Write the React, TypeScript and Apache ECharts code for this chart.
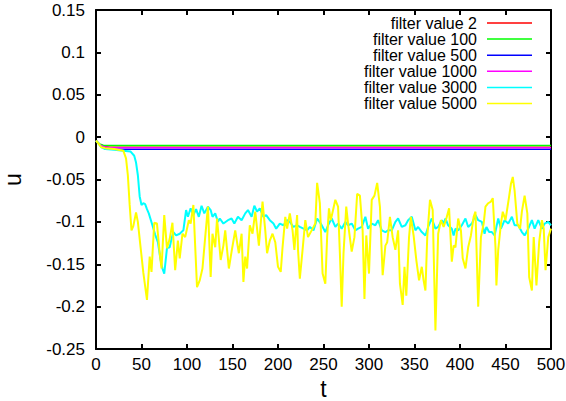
import React, { useEffect, useRef } from "react";
import * as echarts from "echarts";

const seriesNames = [
  "filter value 2",
  "filter value 100",
  "filter value 500",
  "filter value 1000",
  "filter value 3000",
  "filter value 5000",
];
const seriesColors = ["#ff0000", "#00ff00", "#0000ff", "#ff00ff", "#00ffff", "#ffff00"];

const xTicks = [0, 50, 100, 150, 200, 250, 300, 350, 400, 450, 500];
const yTicks = [-0.25, -0.2, -0.15, -0.1, -0.05, 0, 0.05, 0.1, 0.15];

const red2: [number, number][] = [[0, -0.004], [4, -0.009], [8, -0.011], [15, -0.012], [500, -0.012]];
const green100: [number, number][] = [[0, -0.004], [4, -0.008], [8, -0.0095], [15, -0.010], [500, -0.010]];
const blue500: [number, number][] = [[0, -0.004], [4, -0.009], [8, -0.012], [15, -0.0142], [500, -0.0142]];
const magenta1000: [number, number][] = [[0, -0.004], [4, -0.009], [8, -0.011], [15, -0.0125], [500, -0.0125]];

const cyan3000: [number, number][] = [
  [0, -0.004], [3, -0.008], [6, -0.012], [10, -0.014], [20, -0.015], [30, -0.016], [38, -0.017],
  [42, -0.022], [44, -0.03], [46, -0.045], [48, -0.07], [50, -0.08], [52, -0.078], [54, -0.079],
  [56, -0.085], [58, -0.09], [62, -0.104], [65, -0.115], [68, -0.124], [71, -0.145], [73, -0.155],
  [75, -0.161], [78, -0.131], [81, -0.13], [83, -0.12], [85, -0.112], [88, -0.116], [92, -0.114],
  [96, -0.11], [99, -0.086], [101, -0.094], [104, -0.084], [107, -0.092], [110, -0.085], [113, -0.094],
  [116, -0.081], [119, -0.09], [123, -0.082], [126, -0.086], [128, -0.094], [131, -0.09], [134, -0.1],
  [136, -0.096], [140, -0.102], [145, -0.098], [149, -0.096], [152, -0.102], [156, -0.094], [160, -0.098],
  [164, -0.09], [167, -0.086], [171, -0.094], [174, -0.081], [177, -0.088], [180, -0.084], [184, -0.094],
  [187, -0.092], [191, -0.098], [195, -0.102], [198, -0.108], [202, -0.102], [206, -0.104], [210, -0.098],
  [213, -0.1], [217, -0.106], [221, -0.104], [224, -0.106], [228, -0.108], [232, -0.11], [235, -0.106],
  [239, -0.11], [243, -0.096], [247, -0.102], [252, -0.112], [255, -0.104], [259, -0.096], [263, -0.106],
  [266, -0.102], [270, -0.108], [274, -0.1], [277, -0.104], [281, -0.102], [285, -0.11], [288, -0.108],
  [292, -0.106], [296, -0.094], [299, -0.108], [303, -0.102], [307, -0.104], [310, -0.098], [314, -0.11],
  [318, -0.112], [321, -0.11], [325, -0.11], [329, -0.1], [332, -0.096], [336, -0.106], [340, -0.104],
  [343, -0.098], [347, -0.094], [351, -0.11], [354, -0.106], [358, -0.112], [362, -0.116], [365, -0.106],
  [369, -0.096], [373, -0.108], [376, -0.106], [380, -0.098], [382, -0.102], [384, -0.096], [387, -0.104],
  [391, -0.108], [393, -0.116], [395, -0.108], [398, -0.11], [402, -0.104], [406, -0.096], [409, -0.106],
  [413, -0.102], [417, -0.092], [420, -0.098], [424, -0.1], [427, -0.114], [429, -0.106], [432, -0.112],
  [435, -0.112], [438, -0.116], [442, -0.096], [445, -0.108], [449, -0.098], [453, -0.102], [457, -0.094],
  [460, -0.104], [464, -0.104], [468, -0.112], [471, -0.116], [475, -0.108], [479, -0.098], [482, -0.108],
  [486, -0.098], [490, -0.108], [493, -0.102], [497, -0.1], [500, -0.104],
];

const yellow5000: [number, number][] = [
  [0, -0.004], [3, -0.008], [6, -0.012], [10, -0.013], [20, -0.014], [30, -0.016], [33, -0.025],
  [35, -0.045], [37, -0.08], [39, -0.11], [41, -0.105], [44, -0.089], [46, -0.1], [49, -0.13],
  [52, -0.16], [56, -0.192], [59, -0.141], [61, -0.159], [64, -0.101], [67, -0.102], [70, -0.137],
  [72, -0.155], [75, -0.092], [78, -0.131], [81, -0.12], [84, -0.101], [87, -0.157], [90, -0.122],
  [92, -0.143], [95, -0.114], [98, -0.118], [102, -0.098], [104, -0.102], [107, -0.08], [111, -0.177],
  [114, -0.169], [117, -0.155], [120, -0.118], [123, -0.082], [126, -0.165], [128, -0.114], [131, -0.13],
  [133, -0.096], [137, -0.145], [140, -0.128], [142, -0.11], [146, -0.155], [149, -0.135], [153, -0.11],
  [155, -0.124], [157, -0.137], [160, -0.114], [162, -0.171], [164, -0.141], [166, -0.155], [169, -0.104],
  [172, -0.114], [175, -0.088], [179, -0.128], [183, -0.076], [186, -0.11], [188, -0.137], [191, -0.122],
  [194, -0.114], [197, -0.124], [200, -0.153], [203, -0.159], [205, -0.13], [208, -0.094], [210, -0.108],
  [213, -0.09], [216, -0.11], [218, -0.133], [221, -0.092], [222, -0.133], [224, -0.167], [227, -0.133],
  [230, -0.098], [233, -0.118], [237, -0.11], [241, -0.102], [243, -0.054], [246, -0.078], [249, -0.161],
  [252, -0.173], [254, -0.118], [256, -0.084], [258, -0.098], [263, -0.074], [266, -0.082], [268, -0.137],
  [270, -0.2], [272, -0.137], [275, -0.082], [277, -0.102], [281, -0.135], [284, -0.118], [287, -0.067],
  [290, -0.069], [293, -0.11], [295, -0.191], [297, -0.116], [300, -0.161], [303, -0.074], [306, -0.069],
  [309, -0.054], [312, -0.082], [315, -0.163], [318, -0.128], [320, -0.124], [323, -0.094], [326, -0.118],
  [329, -0.133], [332, -0.11], [334, -0.173], [337, -0.198], [339, -0.153], [341, -0.187], [344, -0.118],
  [346, -0.094], [349, -0.116], [352, -0.145], [355, -0.169], [358, -0.153], [360, -0.169], [362, -0.181],
  [364, -0.118], [367, -0.074], [370, -0.086], [373, -0.228], [376, -0.114], [379, -0.098], [382, -0.106],
  [385, -0.096], [388, -0.084], [391, -0.147], [393, -0.128], [395, -0.13], [398, -0.096], [401, -0.11],
  [403, -0.143], [406, -0.155], [409, -0.13], [412, -0.116], [415, -0.094], [417, -0.088], [420, -0.2],
  [423, -0.118], [426, -0.102], [428, -0.082], [431, -0.078], [434, -0.076], [436, -0.072], [439, -0.13],
  [440, -0.175], [442, -0.133], [445, -0.102], [447, -0.088], [450, -0.098], [454, -0.07], [456, -0.055],
  [458, -0.047], [460, -0.063], [463, -0.102], [466, -0.108], [468, -0.088], [471, -0.069], [474, -0.09],
  [476, -0.165], [479, -0.181], [481, -0.118], [484, -0.175], [487, -0.124], [490, -0.098], [492, -0.108],
  [494, -0.157], [497, -0.118], [500, -0.108],
];

const seriesData = [red2, green100, blue500, magenta1000, cyan3000, yellow5000];
const seriesWidths = [1.5, 1.5, 1.5, 1.5, 2, 2];

const FONT = "Liberation Sans";

export default function App() {
  const ref = useRef<HTMLDivElement>(null);
  useEffect(() => {
    if (!ref.current) return;
    const chart = echarts.init(ref.current, null, { renderer: "svg" });
    const fmt = (v: number) => String(+v.toFixed(2));
    const axisCommon = {
      type: "value" as const,
      axisLine: { show: true, onZero: false, lineStyle: { color: "#000", width: 2 } },
      axisTick: { show: true, inside: true, length: 5, lineStyle: { color: "#000", width: 2 } },
      splitLine: { show: false },
    };
    const legendGraphics: any[] = [];
    seriesNames.forEach((name, i) => {
      const y = 23 + i * 16.1;
      legendGraphics.push({
        type: "text",
        x: 477,
        y,
        style: {
          text: name,
          fill: "#000",
          font: `16px '${FONT}'`,
          align: "right",
          verticalAlign: "middle",
        },
        z: 100,
      });
      legendGraphics.push({
        type: "line",
        shape: { x1: 487, y1: y, x2: 532, y2: y },
        style: { stroke: seriesColors[i], lineWidth: 1.5 },
        z: 100,
      });
    });
    chart.setOption({
      animation: false,
      backgroundColor: "#fff",
      grid: {
        left: 96,
        right: 15,
        top: 10,
        bottom: 52,
        containLabel: false,
        outerBoundsMode: "none",
      },
      xAxis: [
        {
          ...axisCommon,
          position: "bottom",
          min: xTicks[0],
          max: xTicks[xTicks.length - 1],
          interval: 50,
          name: "t",
          nameLocation: "middle",
          nameGap: 25,
          nameTextStyle: { fontFamily: FONT, fontSize: 23, color: "#000" },
          axisLabel: { fontFamily: FONT, fontSize: 17, color: "#000", margin: 7 },
        },
        {
          ...axisCommon,
          position: "top",
          min: xTicks[0],
          max: xTicks[xTicks.length - 1],
          interval: 50,
          axisLabel: { show: false },
        },
      ],
      yAxis: [
        {
          ...axisCommon,
          position: "left",
          min: yTicks[0],
          max: yTicks[yTicks.length - 1],
          interval: 0.05,
          name: "u",
          nameLocation: "middle",
          nameGap: 72,
          nameRotate: 90,
          nameTextStyle: { fontFamily: FONT, fontSize: 23, color: "#000" },
          axisLabel: { fontFamily: FONT, fontSize: 17, color: "#000", margin: 11, formatter: fmt },
        },
        {
          ...axisCommon,
          position: "right",
          min: yTicks[0],
          max: yTicks[yTicks.length - 1],
          interval: 0.05,
          axisLabel: { show: false },
        },
      ],
      series: seriesNames.map((name, i) => ({
        name,
        type: "line",
        data: seriesData[i],
        showSymbol: false,
        symbol: "none",
        lineStyle: { color: seriesColors[i], width: seriesWidths[i] },
        itemStyle: { color: seriesColors[i] },
        z: 2 + i,
      })),
      graphic: legendGraphics,
    });
    return () => chart.dispose();
  }, []);
  return (
    <div
      ref={ref}
      style={{ position: "fixed", left: 0, top: 0, width: 566, height: 401 }}
    />
  );
}
